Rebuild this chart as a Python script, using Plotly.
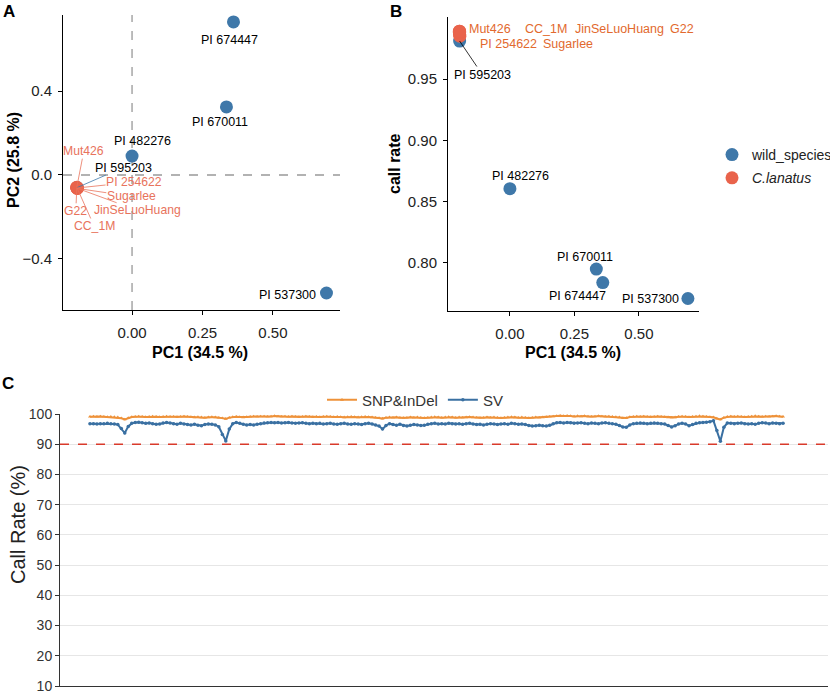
import plotly.graph_objects as go

W, H = 830, 693

# ---------------- data: panels A & B ----------------
wild_names = ["PI 674447", "PI 670011", "PI 482276", "PI 537300", "PI 595203"]
wild_pc1 = [0.36, 0.335, 0.0, 0.69, -0.195]
wild_pc2 = [0.729, 0.324, 0.09, -0.562, -0.06]
wild_callrate = [0.784, 0.795, 0.8606, 0.771, 0.981]

cult_names = ["Mut426", "PI 254622", "Sugarlee", "JinSeLuoHuang", "G22", "CC_1M"]
cult_pc1 = [-0.196, -0.195, -0.194, -0.195, -0.196, -0.195]
cult_pc2 = [-0.058, -0.062, -0.064, -0.063, -0.061, -0.062]
cult_callrate = [0.989, 0.986, 0.985, 0.988, 0.988, 0.989]

group_names = ["wild_species", "C.lanatus"]

# ---------------- data: panel C ----------------
sv_rate = [
    96.8, 96.8, 96.7, 96.8, 96.8, 96.9, 96.8, 96.7, 96.5, 95.2,
    93.7, 95.9, 96.9, 97.2, 97.3, 97.1, 96.9, 97.0, 96.8, 96.6,
    96.7, 97.0, 97.2, 97.0, 96.8, 96.6, 96.9, 96.7, 96.5, 96.4,
    96.6, 96.3, 96.1, 96.5, 96.7, 96.6, 96.4, 95.8, 93.2, 91.1,
    95.0, 96.8, 97.2, 96.9, 96.6, 96.4, 96.5, 96.4, 96.6, 96.8,
    97.0, 97.1, 97.2, 97.1, 97.2, 97.0, 97.1, 97.2, 97.0, 96.9,
    97.0, 97.1, 96.9, 96.8, 96.9, 96.8, 96.9, 96.7, 96.8, 96.9,
    96.7, 96.6, 96.8, 96.9, 96.7, 96.6, 96.8, 96.7, 96.5, 96.8,
    96.9, 96.7, 96.4, 96.0, 95.0, 96.2, 96.8, 96.5, 96.3, 96.6,
    96.2, 96.0, 96.3, 96.5, 96.4, 96.2, 96.3, 96.6, 96.8, 96.9,
    96.7, 96.8, 96.7, 96.9, 96.8, 96.7, 96.8, 96.6, 96.8, 96.9,
    96.7, 96.5, 96.6, 96.4, 96.6, 96.8, 96.7, 96.5, 96.7, 96.8,
    96.6, 96.9, 96.8, 96.6, 96.7, 96.5, 96.2, 96.0, 96.1, 96.3,
    96.1, 96.0, 96.3, 96.8, 97.1, 97.2, 97.0, 97.2, 97.1, 96.9,
    97.0, 97.1, 96.9, 96.8, 97.0, 96.9, 96.8, 97.0, 97.1, 96.9,
    96.8, 96.6, 96.2, 95.7, 95.6, 96.4, 96.8, 96.9, 97.0, 96.9,
    96.8, 96.9, 97.0, 96.9, 96.8, 96.7, 96.2, 95.7, 96.1, 96.7,
    96.9, 96.7, 96.1, 96.5, 96.9, 97.1, 97.2, 97.3, 97.4, 97.8,
    94.5, 91.0, 95.6, 97.0, 96.9, 96.8, 96.9, 97.0, 96.8, 96.7,
    96.8, 96.6, 96.9, 97.1, 97.0, 96.8, 97.0, 96.9, 96.8, 96.9,
]

snp_indel_rate = [
    99.1, 99.2, 99.1, 99.2, 99.1, 99.0, 99.1, 99.0, 98.9,
    98.6, 98.2, 98.7, 99.0,
    99.1, 99.2, 99.1, 99.0, 99.1, 99.2, 99.1, 99.0, 99.1, 99.2,
    99.1, 99.1, 99.0, 99.1, 99.2, 99.1, 99.0, 98.9, 99.0, 98.9,
    98.8, 98.9, 99.0, 98.9, 98.8,
    98.6, 98.4, 98.8,
    99.0, 99.1, 99.0, 98.9, 99.0, 99.1, 99.2, 99.1, 99.2, 99.2,
    99.1, 99.2, 99.3, 99.2, 99.1, 99.2, 99.1, 99.2, 99.1, 99.0,
    99.1, 99.2, 99.1, 99.0, 99.1, 99.0, 99.1, 99.2, 99.1, 99.0,
    99.1, 99.0, 98.9, 99.0, 99.1, 99.0, 98.9, 99.0, 99.1, 99.0,
    98.9, 98.8, 98.7,
    98.5, 98.8,
    98.9, 98.8, 98.9, 98.8, 98.7, 98.8, 98.9, 98.8, 98.9, 98.8,
    98.7, 98.8, 98.9, 99.0, 98.9, 98.8, 98.9, 99.0, 98.9, 98.8,
    98.9, 98.8, 98.9, 99.0, 98.9, 98.8, 98.7, 98.8, 98.9, 98.8,
    98.9, 98.8, 98.7, 98.8, 98.9, 99.0, 98.9, 98.8, 98.9, 98.8,
    98.7, 98.8, 98.9, 98.8, 98.9, 99.0, 99.1,
    99.2, 99.3, 99.4, 99.3, 99.4, 99.3, 99.2, 99.3, 99.2, 99.3,
    99.2, 99.1, 99.2, 99.3, 99.2, 99.1, 99.2, 99.1, 99.0,
    98.9, 98.6, 98.7, 99.0,
    99.1, 99.2, 99.1, 99.2, 99.1, 99.0, 99.1, 99.2, 99.1, 99.0,
    98.9, 98.8, 98.9, 99.1, 99.2, 99.1, 99.0, 99.1, 99.2, 99.3,
    99.2, 99.1, 99.0,
    98.9, 98.5, 98.2, 98.8,
    99.1, 99.2, 99.1, 99.2, 99.1, 99.0, 99.1, 99.2, 99.3, 99.2,
    99.1, 99.2, 99.1, 99.2, 99.3, 99.2, 99.1,
]
threshold = 90

# ---------------- styling ----------------
FONT = "Liberation Sans, Arial, Helvetica, sans-serif"
BLUE = "#3F78A9"
RED = "#E9634B"
LAB_A_ORANGE = "#E8735C"
LAB_B_ORANGE = "#E2692E"
C_ORANGE = "#EE923A"
C_BLUE = "#3A70A2"


def px(x):
    return x / W


def py(y):
    return 1 - y / H


fig = go.Figure()

# ----- Panel A -----
fig.add_trace(go.Scatter(x=wild_pc1, y=wild_pc2, mode="markers", xaxis="x", yaxis="y",
                         marker=dict(color=BLUE, size=13), showlegend=False, hoverinfo="skip"))
fig.add_trace(go.Scatter(x=cult_pc1, y=cult_pc2, mode="markers", xaxis="x", yaxis="y",
                         marker=dict(color=RED, size=13), showlegend=False, hoverinfo="skip"))

# ----- Panel B -----
fig.add_trace(go.Scatter(x=wild_pc1, y=wild_callrate, mode="markers", xaxis="x2", yaxis="y2",
                         name=group_names[0], legend="legend", legendgroup="g1",
                         marker=dict(color=BLUE, size=13), hoverinfo="skip"))
fig.add_trace(go.Scatter(x=cult_pc1, y=cult_callrate, mode="markers", xaxis="x2", yaxis="y2",
                         name="<i>" + group_names[1] + "</i>", legend="legend", legendgroup="g2",
                         marker=dict(color=RED, size=13), hoverinfo="skip"))

# ----- Panel C -----
fig.add_trace(go.Scatter(x=list(range(len(snp_indel_rate))), y=snp_indel_rate, mode="lines+markers",
                         xaxis="x3", yaxis="y3", name="SNP&InDel", legend="legend2",
                         line=dict(color=C_ORANGE, width=2),
                         marker=dict(symbol="triangle-up", size=3.5, color=C_ORANGE),
                         hoverinfo="skip"))
fig.add_trace(go.Scatter(x=list(range(len(sv_rate))), y=sv_rate, mode="lines+markers",
                         xaxis="x3", yaxis="y3", name="SV", legend="legend2",
                         line=dict(color=C_BLUE, width=2),
                         marker=dict(symbol="circle", size=3.5, color=C_BLUE),
                         hoverinfo="skip"))

axis_common = dict(showgrid=False, zeroline=False, showline=True, linecolor="black", linewidth=1,
                   ticks="outside", ticklen=4, tickcolor="black", tickwidth=1, automargin=False,
                   tickfont=dict(family=FONT, size=15, color="#222"))

n = len(sv_rate)
fig.update_layout(
    width=W, height=H, margin=dict(l=0, r=0, t=0, b=0, pad=0, autoexpand=False),
    paper_bgcolor="white", plot_bgcolor="white",
    font=dict(family=FONT, color="#222"),
    xaxis=dict(domain=[px(63), px(340)], range=[-0.245, 0.738], anchor="y",
               tickvals=[0, 0.25, 0.5], tickformat=".2f", ticklabelstandoff=5, **axis_common),
    yaxis=dict(domain=[py(310), py(15)], range=[-0.643, 0.762], anchor="x",
               tickvals=[-0.4, 0.0, 0.4], tickformat=".1f", ticklabelstandoff=3, **axis_common),
    xaxis2=dict(domain=[px(448), px(699)], range=[-0.24, 0.733], anchor="y2",
                tickvals=[0, 0.25, 0.5], tickformat=".2f", ticklabelstandoff=5, **axis_common),
    yaxis2=dict(domain=[py(311), py(17)], range=[0.7608, 1.0006], anchor="x2",
                tickvals=[0.80, 0.85, 0.90, 0.95], tickformat=".2f", ticklabelstandoff=3,
                **axis_common),
    xaxis3=dict(domain=[px(60), px(828)], range=[-8.6, n - 1 + 12.9], anchor="y3",
                showgrid=False, zeroline=False, showline=True, linecolor="#333", linewidth=1,
                showticklabels=False, ticks="", automargin=False),
    yaxis3=dict(domain=[py(686), py(414)], range=[10, 100], anchor="x3",
                tick0=10, dtick=10, showgrid=True, gridcolor="#E6E6E6", gridwidth=1,
                zeroline=False, showline=True, linecolor="#333", linewidth=1,
                ticks="outside", ticklen=4, tickcolor="#333", automargin=False,
                ticklabeloverflow="allow",
                tickfont=dict(family=FONT, size=14, color="#333")),
    legend=dict(x=px(712), y=py(139), xanchor="left", yanchor="top",
                font=dict(family=FONT, size=14, color="#222"), tracegroupgap=2,
                bgcolor="rgba(0,0,0,0)"),
    legend2=dict(x=0.5, y=py(400), xanchor="center", yanchor="middle", orientation="h",
                 itemwidth=30,
                 font=dict(family=FONT, size=15, color="#333"), bgcolor="rgba(0,0,0,0)"),
)

shapes = [
    dict(type="line", xref="x", yref="y domain", x0=0, x1=0, y0=0, y1=1,
         line=dict(color="#999", width=1.3, dash="dash"), layer="below"),
    dict(type="line", xref="x domain", yref="y", x0=0, x1=1, y0=0, y1=0,
         line=dict(color="#999", width=1.3, dash="dash"), layer="below"),
    dict(type="line", xref="x3 domain", yref="y3", x0=0, x1=1, y0=threshold, y1=threshold,
         line=dict(color="#D93A2B", width=1.5, dash="dash")),
]
fig.update_layout(shapes=shapes)

ann = []


def paper_text(text, x, y, size, color="black", angle=0):
    return dict(text=text, x=px(x), y=py(y), xref="paper", yref="paper", showarrow=False,
                xanchor="center", yanchor="middle", textangle=angle,
                font=dict(family=FONT, size=size, color=color))


# panel letters
for letter, x, y in [("A", 9, 12), ("B", 396, 12), ("C", 8, 383)]:
    ann.append(paper_text("<b>%s</b>" % letter, x, y, 17))
# axis titles
for t, x, y, ang in [("PC1 (34.5 %)", 200, 352, 0), ("PC1 (34.5 %)", 573, 352, 0),
                     ("PC2 (25.8 %)", 13, 160, -90), ("call rate", 394, 164, -90)]:
    ann.append(paper_text("<b>%s</b>" % t, x, y, 16, angle=ang))
ann.append(paper_text("Call Rate (%)", 18, 525, 20, color="#222", angle=-90))

# Panel A labels (offsets in screen pixels: +dx right, +dy down)
a_wild_shift = {"PI 674447": (-4, 18), "PI 670011": (-6, 15), "PI 482276": (10, -15),
                "PI 537300": (-39, 2)}
for nm, xv, yv in zip(wild_names, wild_pc1, wild_pc2):
    if nm in a_wild_shift:
        dx, dy = a_wild_shift[nm]
        ann.append(dict(text=nm, x=xv, y=yv, xref="x", yref="y", showarrow=False,
                        xanchor="center", yanchor="middle",
                        xshift=dx, yshift=-dy, font=dict(family=FONT, size=12.5, color="black")))
    else:
        ann.append(dict(text=nm, x=xv, y=yv, xref="x", yref="y", showarrow=True, arrowhead=0,
                        arrowwidth=0.8, arrowcolor=BLUE, ax=46, ay=-20, standoff=0,
                        borderpad=0, font=dict(family=FONT, size=12.5, color="black")))
a_cult_off = {"Mut426": (7, -36), "PI 254622": (57, -6), "Sugarlee": (54, 8),
              "JinSeLuoHuang": (60, 22), "G22": (-1, 23), "CC_1M": (17, 38)}
for nm, xv, yv in zip(cult_names, cult_pc1, cult_pc2):
    dx, dy = a_cult_off[nm]
    ann.append(dict(text=nm, x=xv, y=yv, xref="x", yref="y", showarrow=True, arrowhead=0,
                    arrowwidth=0.8, arrowcolor=LAB_A_ORANGE, ax=dx, ay=dy, standoff=0,
                    borderpad=0, font=dict(family=FONT, size=12.2, color=LAB_A_ORANGE)))

# Panel B labels
b_wild_shift = {"PI 674447": (-25, 13), "PI 670011": (-11, -12), "PI 482276": (11, -13),
                "PI 537300": (-37, 1)}
for nm, xv, yv in zip(wild_names, wild_pc1, wild_callrate):
    if nm in b_wild_shift:
        dx, dy = b_wild_shift[nm]
        ann.append(dict(text=nm, x=xv, y=yv, xref="x2", yref="y2", showarrow=False,
                        xanchor="center", yanchor="middle",
                        xshift=dx, yshift=-dy, font=dict(family=FONT, size=12.5, color="black")))
    else:
        ann.append(dict(text=nm, x=xv, y=yv, xref="x2", yref="y2", showarrow=True, arrowhead=0,
                        arrowwidth=0.8, arrowcolor="black", ax=23, ay=34, standoff=0,
                        font=dict(family=FONT, size=12.5, color="black")))
b_cult_pos = {"Mut426": (490, 29), "CC_1M": (546, 29), "JinSeLuoHuang": (619, 29),
              "G22": (682, 29), "PI 254622": (508, 44), "Sugarlee": (568, 44)}
for nm in cult_names:
    xx, yy = b_cult_pos[nm]
    ann.append(paper_text(nm, xx, yy, 12.5, color=LAB_B_ORANGE))

fig.update_layout(annotations=ann)
fig.write_html("out.html")
